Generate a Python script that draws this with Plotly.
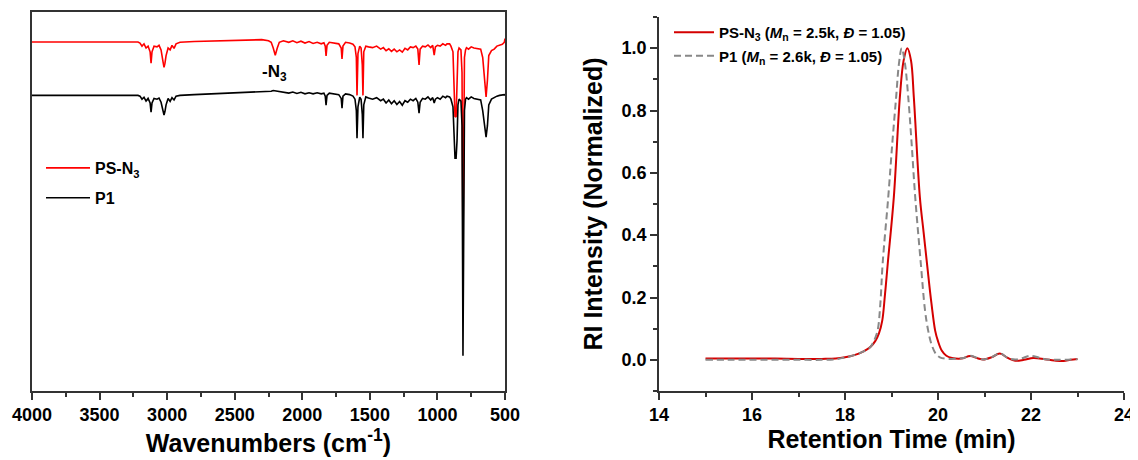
import plotly.graph_objects as go

# ---------------- FTIR data (left panel) ----------------
ir_wavenumber = [4000, 3216, 3201, 3186, 3171, 3156, 3141, 3126, 3119, 3112, 3097, 3075, 3060, 3045,
                 3031, 3023, 3016, 3008, 2993, 2978, 2964, 2949, 2934, 2905, 2800, 2600, 2400, 2300,
                 2250, 2230, 2215, 2200, 2185, 2170, 2140, 2100, 2070, 2040, 2010, 1980, 1950, 1920,
                 1890, 1860, 1840, 1830, 1824, 1817, 1800, 1760, 1730, 1712, 1706, 1699, 1680, 1650,
                 1625, 1610, 1600, 1595, 1588, 1575, 1565, 1556, 1551, 1545, 1530, 1510, 1480, 1450,
                 1420, 1400, 1380, 1360, 1340, 1320, 1300, 1280, 1260, 1240, 1220, 1200, 1180, 1160,
                 1145, 1136, 1128, 1110, 1090, 1070, 1050, 1035, 1024, 1015, 1000, 980, 960, 940,
                 929, 910, 900, 885, 877, 870, 862, 855, 848, 840, 826, 818, 811, 806, 800, 792,
                 785, 770, 750, 730, 700, 680, 665, 650, 640, 630, 620, 600, 580, 560, 540, 520,
                 505, 500]

ps_n3_T = [92.1, 92.1, 91.8, 91.0, 91.6, 90.5, 91.0, 89.5, 86.5, 89.5, 91.0, 90.8, 91.2, 90.0,
           87.0, 85.4, 86.5, 88.5, 90.5, 90.0, 91.2, 90.4, 91.6, 92.0, 92.2, 92.4, 92.6, 92.7,
           92.4, 92.0, 90.5, 88.6, 90.5, 92.0, 92.4, 92.0, 92.4, 91.9, 92.3, 91.8, 92.2, 91.7,
           92.0, 91.6, 91.9, 91.0, 88.4, 91.2, 92.0, 91.8, 91.6, 90.5, 87.6, 91.0, 92.0, 91.8,
           91.5, 90.8, 88.0, 78.0, 89.0, 91.0, 90.5, 86.0, 78.0, 89.5, 91.0, 90.8, 90.6, 91.0,
           90.2, 90.6, 89.8, 90.3, 89.6, 90.2, 89.5, 90.0, 89.4, 90.4, 90.0, 90.8, 90.6, 91.0,
           90.2, 86.0, 90.2, 91.0, 90.8, 91.3, 90.6, 91.2, 88.6, 90.8, 91.2, 91.0, 91.6, 91.2,
           91.6, 91.6, 91.0, 89.5, 80.0, 72.5, 72.3, 80.0, 89.5, 90.5, 90.0, 84.0, 37.0, 60.0, 88.0, 90.0,
           90.6, 90.2, 90.8, 90.5, 90.4, 90.2, 88.0, 82.0, 77.6, 82.0, 88.5, 89.8, 90.2, 91.0, 91.3, 91.5,
           92.0, 93.0]

p1_T = [78.0, 78.0, 77.8, 77.0, 77.5, 76.5, 77.2, 76.0, 73.6, 76.0, 77.2, 77.0, 77.3, 76.2,
        74.0, 72.8, 73.8, 75.5, 77.2, 76.4, 77.4, 76.8, 77.8, 78.0, 78.2, 78.5, 78.8, 78.9,
        78.9, 79.1, 79.3, 79.2, 79.0, 78.9, 78.8, 78.6, 78.9, 78.5, 78.8, 78.4, 78.7, 78.4,
        78.7, 78.4, 78.6, 77.8, 75.4, 78.0, 78.6, 78.4, 78.2, 77.2, 74.6, 77.8, 78.4, 78.2,
        77.8, 77.0, 74.0, 66.7, 75.0, 77.5, 77.0, 73.0, 66.7, 75.5, 77.6, 77.3, 77.0, 77.4,
        76.6, 77.0, 76.0, 76.8, 75.8, 76.6, 75.6, 76.4, 75.4, 76.6, 76.2, 77.0, 76.6, 77.2,
        76.2, 73.3, 76.2, 77.2, 77.0, 77.6, 76.8, 77.4, 76.0, 77.0, 77.4, 77.0, 77.8, 77.4,
        77.8, 77.6, 77.0, 75.0, 66.0, 61.4, 61.4, 66.0, 75.5, 77.0, 76.5, 70.0, 9.3, 40.0, 74.0, 77.0,
        77.4, 77.0, 77.6, 77.2, 77.0, 76.8, 74.0, 70.0, 67.0, 70.0, 75.5, 77.0, 77.5, 77.8, 78.0, 78.2,
        78.2, 78.0]

ir_ticks = [4000, 3500, 3000, 2500, 2000, 1500, 1000, 500]

# ---------------- GPC data (right panel) ----------------
ps_n3_time = [15.0, 15.5, 16.0, 16.5, 17.0, 17.5, 17.8, 18.0, 18.2, 18.4, 18.55, 18.65, 18.73, 18.8,
              18.86, 18.92, 19.05, 19.18, 19.26, 19.34, 19.42, 19.48, 19.61, 19.69, 19.77, 19.86,
              19.94, 20.0, 20.08, 20.18, 20.3, 20.5, 20.69, 20.85, 20.97, 21.15, 21.33, 21.5,
              21.66, 21.85, 22.05, 22.3, 22.5, 22.7, 22.85, 23.0]
ps_n3_int = [0.004, 0.004, 0.004, 0.004, 0.003, 0.003, 0.004, 0.008, 0.015, 0.027, 0.042, 0.06, 0.085, 0.125,
             0.21, 0.31, 0.522, 0.843, 0.96, 1.0, 0.96, 0.843, 0.522, 0.41, 0.30, 0.18,
             0.093, 0.06, 0.03, 0.013, 0.006, 0.004, 0.012, 0.005, 0.001, 0.008, 0.020, 0.006,
             -0.003, 0.0, 0.006, 0.002, -0.002, -0.004, 0.0, 0.003]

p1_time = [15.0, 15.5, 16.0, 16.5, 17.0, 17.5, 17.8, 18.0, 18.2, 18.4, 18.54, 18.62, 18.7, 18.76,
           18.81, 18.93, 19.02, 19.10, 19.16, 19.22, 19.29, 19.36, 19.43, 19.51, 19.63, 19.72,
           19.79, 19.86, 19.95, 20.04, 20.2, 20.4, 20.55, 20.69, 20.85, 20.97, 21.15, 21.33, 21.5,
           21.66, 21.8, 21.98, 22.15, 22.3, 22.6, 23.0]
p1_int = [0.0, 0.0, 0.0, 0.0, 0.0, 0.0, 0.002, 0.008, 0.015, 0.027, 0.04, 0.06, 0.093, 0.18,
          0.31, 0.522, 0.70, 0.843, 0.95, 1.0, 0.95, 0.843, 0.70, 0.522, 0.31, 0.16,
          0.093, 0.05, 0.02, 0.008, 0.003, 0.004, 0.006, 0.013, 0.006, 0.001, 0.008, 0.021, 0.006,
          0.001, 0.005, 0.013, 0.008, 0.002, 0.0, 0.002]

gpc_x_ticks = [14, 16, 18, 20, 22, 24]
gpc_y_ticks = [0.0, 0.2, 0.4, 0.6, 0.8, 1.0]

FONT = "Liberation Sans, Arial, sans-serif"
AX = "#333333"
# the page body adds an 8 px margin, so the figure is 8 px smaller than the window
W, H = 1130, 452
OFF = 8

fig = go.Figure()

fig.add_trace(go.Scatter(
    x=ir_wavenumber, y=ps_n3_T, mode="lines", name="<b>PS-N<sub>3</sub></b>",
    line=dict(color="#ff0000", width=1.6), xaxis="x", yaxis="y",
    legend="legend", legendgroup="a"))
fig.add_trace(go.Scatter(
    x=ir_wavenumber, y=p1_T, mode="lines", name="<b>P1</b>",
    line=dict(color="#000000", width=1.6), xaxis="x", yaxis="y",
    legend="legend", legendgroup="b"))

fig.add_trace(go.Scatter(
    x=ps_n3_time, y=ps_n3_int, mode="lines", line_shape="spline",
    name="<b>PS-N<sub>3</sub> (<i>M</i><sub>n</sub> = 2.5k, <i>Đ</i> = 1.05)</b>",
    line=dict(color="#d40000", width=2), xaxis="x2", yaxis="y2",
    legend="legend2", legendgroup="c"))
fig.add_trace(go.Scatter(
    x=p1_time, y=p1_int, mode="lines", line_shape="spline",
    name="<b>P1 (<i>M</i><sub>n</sub> = 2.6k, <i>Đ</i> = 1.05)</b>",
    line=dict(color="#888888", width=2, dash="7px,4px"), xaxis="x2", yaxis="y2",
    legend="legend2", legendgroup="d"))

fig.add_annotation(x=2202, y=84.0, xref="x", yref="y", text="<b>-N<sub>3</sub></b>",
                   showarrow=False, font=dict(family=FONT, size=17, color="black"))

tickfont = dict(family=FONT, size=18, color="black", weight="bold")
titlefont = dict(family=FONT, size=25, color="black", weight="bold")

fig.update_layout(
    width=W, height=H,
    margin=dict(l=0, r=0, t=12 - OFF, b=460 - 391),
    paper_bgcolor="white", plot_bgcolor="white",
    font=dict(family=FONT, color="black"),
    xaxis=dict(domain=[(32 - OFF) / W, (505 - OFF) / W], range=[4000, 500], tickvals=ir_ticks,
               automargin=False,
               ticks="outside", ticklen=7, tickwidth=1.5, tickcolor=AX,
               minor=dict(ticks="outside", ticklen=4, dtick=250, tick0=500, tickcolor=AX, tickwidth=1.5),
               showline=True, linecolor=AX, linewidth=1.5, mirror=True, showgrid=False, zeroline=False,
               tickfont=tickfont,
               title=dict(text="<b>Wavenumbers (cm<sup>-1</sup>)</b>", font=titlefont, standoff=6)),
    yaxis=dict(domain=[0, 1], range=[0, 100], showticklabels=False, ticks="", automargin=False,
               showline=True, linecolor=AX, linewidth=1.5, mirror=True, showgrid=False, zeroline=False),
    xaxis2=dict(domain=[(659 - OFF) / W, (1124 - OFF) / W], range=[14, 24], tickvals=gpc_x_ticks,
                anchor="y2", automargin=False,
                ticks="outside", ticklen=7, tickwidth=1.5, tickcolor=AX,
                minor=dict(ticks="outside", ticklen=4, dtick=1, tick0=14, tickcolor=AX, tickwidth=1.5),
                showline=True, linecolor=AX, linewidth=1.5, showgrid=False, zeroline=False,
                tickfont=tickfont,
                title=dict(text="<b>Retention Time (min)</b>", font=titlefont, standoff=6)),
    yaxis2=dict(domain=[0, 374 / 379], range=[-0.1, 1.1], tickvals=gpc_y_ticks, anchor="x2",
                tickformat=".1f", automargin=False,
                ticks="outside", ticklen=7, tickwidth=1.5, tickcolor=AX,
                minor=dict(ticks="outside", ticklen=4, dtick=0.1, tick0=-0.1, tickcolor=AX, tickwidth=1.5),
                showline=True, linecolor=AX, linewidth=1.5, showgrid=False, zeroline=False,
                tickfont=tickfont,
                title=dict(text="<b>RI Intensity (Normalized)</b>", font=titlefont, standoff=12)),
    legend=dict(x=(41 - OFF) / W, xanchor="left", y=(391 - 151) / 379, yanchor="top",
                bgcolor="rgba(0,0,0,0)", borderwidth=0, traceorder="grouped", tracegroupgap=6,
                font=dict(family=FONT, size=16, color="black"), itemwidth=44),
    legend2=dict(x=(669 - OFF) / W, xanchor="left", y=(391 - 16) / 379, yanchor="top",
                 bgcolor="rgba(0,0,0,0)", borderwidth=0, traceorder="grouped", tracegroupgap=1,
                 font=dict(family=FONT, size=15, color="black"), itemwidth=40),
    showlegend=True,
)

fig.write_html("out.html")
